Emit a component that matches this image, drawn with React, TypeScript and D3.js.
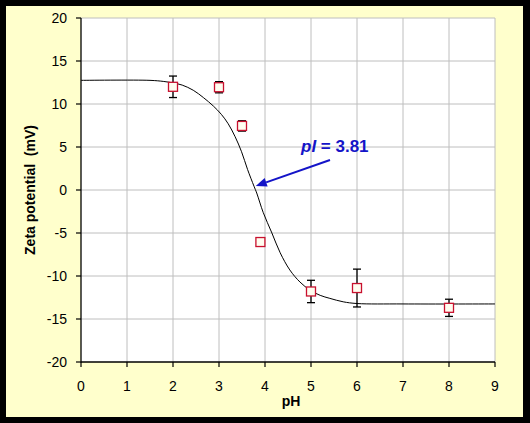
import React from "react";
import * as d3 from "d3";

const pH = [2, 3, 3.5, 3.9, 5, 6, 8];
const zeta = [12.0, 11.95, 7.45, -6.05, -11.8, -11.4, -13.7];
const zetaErr = [1.25, 0.65, 0.6, 0, 1.3, 2.2, 1.0];

const curvePH = [0, 1.5, 1.8, 2.0, 2.2, 2.44, 2.66, 2.88, 3.05, 3.2, 3.35, 3.49, 3.62, 3.76, 3.82, 3.96, 4.15, 4.33, 4.54, 4.76, 4.98, 5.2, 5.41, 5.7, 6.0, 7.0, 9.0];
const curveZeta = [12.75, 12.75, 12.62, 12.45, 12.2, 11.6, 10.75, 9.75, 8.8, 7.7, 6.2, 4.45, 2.4, 0.45, -0.35, -2.6, -5.0, -7.3, -9.3, -10.7, -11.65, -12.25, -12.6, -13.0, -13.2, -13.25, -13.25];

const xTicks = [0, 1, 2, 3, 4, 5, 6, 7, 8, 9];
const yTicks = [-20, -15, -10, -5, 0, 5, 10, 15, 20];

const pI = 3.81;

export default function App() {
  const W = 530, H = 423;
  const left = 81, right = 495, top = 18, bottom = 362;
  const x = d3.scaleLinear().domain([0, 9]).range([left, right]);
  const y = d3.scaleLinear().domain([-20, 20]).range([bottom, top]);
  const font = "Arial, 'Liberation Sans', sans-serif";

  const curvePts: [number, number][] = curvePH.map((p, i) => [p, curveZeta[i]]);
  const line = d3
    .line<[number, number]>()
    .x((d) => x(d[0]))
    .y((d) => y(d[1]))
    .curve(d3.curveCatmullRom.alpha(0.5));

  const blue = "#1414C8";
  const arrowStart: [number, number] = [330, 160];
  const tip: [number, number] = [x(pI) - 0.5, y(0) - 4];
  const ang = Math.atan2(tip[1] - arrowStart[1], tip[0] - arrowStart[0]);
  const ah = 11, aw = 4.5;
  const bx = tip[0] - ah * Math.cos(ang);
  const by = tip[1] - ah * Math.sin(ang);
  const head = [
    [tip[0], tip[1]],
    [bx + aw * Math.sin(ang), by - aw * Math.cos(ang)],
    [bx - aw * Math.sin(ang), by + aw * Math.cos(ang)],
  ]
    .map((p) => p.join(","))
    .join(" ");

  return (
    <svg width={W} height={H} style={{ position: "absolute", left: 0, top: 0 }}>
      <rect x={0} y={0} width={W} height={H} fill="#000" />
      <rect x={6} y={6} width={517} height={411} fill="#FFFFCC" />
      <rect x={left} y={top} width={right - left} height={bottom - top} fill="#fff" />
      {xTicks.slice(1).map((t) => (
        <line key={"gx" + t} x1={x(t)} x2={x(t)} y1={top} y2={bottom} stroke="#BEBEBE" strokeWidth={1} />
      ))}
      {yTicks.slice(1).map((t) => (
        <line key={"gy" + t} x1={left} x2={right} y1={y(t)} y2={y(t)} stroke="#BEBEBE" strokeWidth={1} />
      ))}
      <line x1={left} x2={left} y1={top} y2={bottom + 0.5} stroke="#000" strokeWidth={1.3} />
      <line x1={left} x2={right} y1={bottom} y2={bottom} stroke="#000" strokeWidth={1.3} />
      {yTicks.map((t) => (
        <g key={"yt" + t}>
          <line x1={left - 5} x2={left} y1={y(t)} y2={y(t)} stroke="#000" strokeWidth={1.2} />
          <text x={67} y={y(t)} dy="0.36em" textAnchor="end" fontFamily={font} fontSize={14} fill="#000">
            {t}
          </text>
        </g>
      ))}
      {xTicks.map((t) => (
        <g key={"xt" + t}>
          <line x1={x(t)} x2={x(t)} y1={bottom} y2={bottom + 5} stroke="#000" strokeWidth={1.2} />
          <text x={x(t)} y={391} textAnchor="middle" fontFamily={font} fontSize={14} fill="#000">
            {t}
          </text>
        </g>
      ))}
      <text x={291} y={406} textAnchor="middle" fontFamily={font} fontSize={14} fontWeight="bold" fill="#000">
        pH
      </text>
      <text
        transform={`translate(35,${(top + bottom) / 2}) rotate(-90)`}
        textAnchor="middle"
        fontFamily={font}
        fontSize={14}
        fontWeight="bold"
        fill="#000"
        style={{ whiteSpace: "pre" }}
      >
        {"Zeta potential  (mV)"}
      </text>
      <path d={line(curvePts) || ""} fill="none" stroke="#000" strokeWidth={1} />
      {pH.map((p, i) =>
        zetaErr[i] > 0 ? (
          <g key={"e" + i} stroke="#000" strokeWidth={1.3}>
            <line x1={x(p)} x2={x(p)} y1={y(zeta[i] + zetaErr[i])} y2={y(zeta[i] - zetaErr[i])} />
            <line x1={x(p) - 4} x2={x(p) + 4} y1={y(zeta[i] + zetaErr[i])} y2={y(zeta[i] + zetaErr[i])} />
            <line x1={x(p) - 4} x2={x(p) + 4} y1={y(zeta[i] - zetaErr[i])} y2={y(zeta[i] - zetaErr[i])} />
          </g>
        ) : null
      )}
      {pH.map((p, i) => (
        <rect
          key={"m" + i}
          x={x(p) - 4.5}
          y={y(zeta[i]) - 4.5}
          width={9}
          height={9}
          fill="#FFFDF0"
          stroke="#C8102E"
          strokeWidth={1.3}
        />
      ))}
      <line x1={arrowStart[0]} y1={arrowStart[1]} x2={bx} y2={by} stroke={blue} strokeWidth={2} />
      <polygon points={head} fill={blue} />
      <text x={301} y={152} fontFamily={font} fontSize={17} fontWeight="bold" fill={blue}>
        <tspan fontStyle="italic">pI</tspan>
        <tspan> = 3.81</tspan>
      </text>
    </svg>
  );
}
